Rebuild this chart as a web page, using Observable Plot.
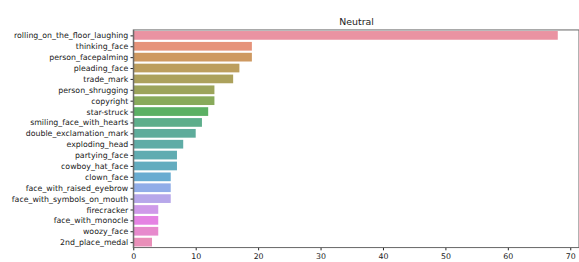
<!DOCTYPE html>
<html>
<head>
<meta charset="utf-8">
<script src="https://cdn.jsdelivr.net/npm/d3@7"></script>
<script src="https://cdn.jsdelivr.net/npm/@observablehq/plot@0.6"></script>
<style>
  html, body { margin: 0; padding: 0; background: white; overflow: hidden; }
</style>
</head>
<body>
<div id="chart"></div>
<script>
const title = "Neutral";
const categories = [
  "rolling_on_the_floor_laughing", "thinking_face", "person_facepalming", "pleading_face",
  "trade_mark", "person_shrugging", "copyright", "star-struck", "smiling_face_with_hearts",
  "double_exclamation_mark", "exploding_head", "partying_face", "cowboy_hat_face",
  "clown_face", "face_with_raised_eyebrow", "face_with_symbols_on_mouth", "firecracker",
  "face_with_monocle", "woozy_face", "2nd_place_medal"
];
const counts = [68, 19, 19, 17, 16, 13, 13, 12, 11, 10, 8, 7, 7, 6, 6, 6, 4, 4, 4, 3];
const xTicks = [0, 10, 20, 30, 40, 50, 60, 70];
const xMax = 71.4;

const data = categories.map((c, i) => ({emoji: c, count: counts[i]}));

// seaborn husl palette (h=.01, s=.9, l=.65) desaturated to 0.75
function huslToRgb(H, S, L) {
  const M = [[3.240969941904521, -1.537383177570093, -0.498610760293],
             [-0.96924363628087, 1.87596750150772, 0.041555057407175],
             [0.055630079696993, -0.20397695888897, 1.056971514242878]];
  const refU = 0.19783000664283, refV = 0.46831999493879;
  const kappa = 903.2962962, epsilon = 0.0088564516;
  let C;
  if (L > 99.9999999) { L = 100; C = 0; }
  else if (L < 1e-8) { L = 0; C = 0; }
  else {
    const sub1 = Math.pow(L + 16, 3) / 1560896;
    const sub2 = sub1 > epsilon ? sub1 : L / kappa;
    const hrad = H / 360 * 2 * Math.PI;
    let min = Infinity;
    for (let c = 0; c < 3; c++) {
      const [m1, m2, m3] = M[c];
      for (let t = 0; t < 2; t++) {
        const top1 = (284517 * m1 - 94839 * m3) * sub2;
        const top2 = (838422 * m3 + 769860 * m2 + 731718 * m1) * L * sub2 - 769860 * t * L;
        const bottom = (632260 * m3 - 126452 * m2) * sub2 + 126452 * t;
        const slope = top1 / bottom, inter = top2 / bottom;
        const len = inter / (Math.sin(hrad) - slope * Math.cos(hrad));
        if (len >= 0 && len < min) min = len;
      }
    }
    C = min / 100 * S;
  }
  const hr = H / 360 * 2 * Math.PI;
  const U = C * Math.cos(hr), V = C * Math.sin(hr);
  if (L === 0) return [0, 0, 0];
  const varU = U / (13 * L) + refU, varV = V / (13 * L) + refV;
  const Y = L <= 8 ? L / kappa : Math.pow((L + 16) / 116, 3);
  const X = -(9 * Y * varU) / ((varU - 4) * varV - varU * varV);
  const Z = (9 * Y - 15 * varV * Y - varV * X) / (3 * varV);
  const f = c => c <= 0.0031308 ? 12.92 * c : 1.055 * Math.pow(c, 1 / 2.4) - 0.055;
  return M.map(r => Math.min(1, Math.max(0, f(r[0] * X + r[1] * Y + r[2] * Z))));
}
const n = categories.length;
const palette = d3.range(n).map(i => {
  let h = (i / n + 0.01) % 1 * 359;
  const [r, g, b] = huslToRgb(h, 0.9 * 99, 0.65 * 99);
  const hsl = d3.hsl(d3.rgb(r * 255, g * 255, b * 255));
  hsl.s *= 0.75;
  return d3.interpolateRgb(hsl.formatHex(), "#ffffff")(0.14);
});

const chart = Plot.plot({
  width: 580,
  height: 262,
  marginLeft: 133.5,
  marginRight: 0,
  marginTop: 30,
  marginBottom: 14,
  style: {fontFamily: "DejaVu Sans", fontSize: "7.85px", color: "#222", background: "white"},
  x: {domain: [0, xMax], ticks: xTicks, tickSize: 2.75, tickPadding: 2.5, label: null, round: false},
  y: {domain: categories, paddingInner: 0.2, paddingOuter: 0.1, round: false, tickSize: 2.75, tickPadding: 2.75, label: null},
  color: {domain: categories, range: palette},
  marks: [
    Plot.barX(data, {x: "count", y: "emoji", fill: "emoji"}),
    Plot.rect([xMax], {x1: 0, x2: xMax, fill: "none", stroke: "#666", strokeWidth: 1}),
    Plot.ruleX([0], {stroke: "#666", strokeWidth: 1}),
    Plot.text([title], {text: d => d, frameAnchor: "top", lineAnchor: "bottom", dy: -5.5, fontSize: 9.4, fill: "#222"})
  ]
});
document.getElementById("chart").appendChild(chart);
</script>
</body>
</html>
